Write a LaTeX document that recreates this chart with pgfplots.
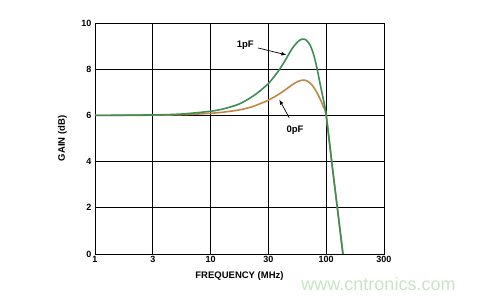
\documentclass[border=0pt]{standalone}
\usepackage{pgfplots}
\pgfplotsset{compat=1.18}
\usepackage{fontspec}
\setmainfont{Liberation Sans}
\definecolor{gcurve}{RGB}{62,140,88}
\definecolor{ocurve}{RGB}{190,136,70}
\definecolor{wmark}{RGB}{200,228,196}
\begin{document}
\begin{tikzpicture}
\begin{axis}[
  at={(0,0)}, anchor=south west,
  scale only axis, width=289pt, height=231pt,
  xmin=0, xmax=5, ymin=0, ymax=10,
  xtick={0,1,2,3,4,5},
  xticklabels={1,3,10,30,100,300},
  ytick={0,2,4,6,8,10},
  grid=major,
  major grid style={black, line width=0.8pt},
  axis line style={black, line width=0.8pt},
  tick style={draw=none},
  ticklabel style={font=\fontsize{9}{10}\selectfont\bfseries},
  /pgf/number format/assume math mode=true,
  xlabel={FREQUENCY (MHz)},
  ylabel={GAIN (dB)},
  label style={font=\fontsize{9.5}{11}\selectfont\bfseries},
  xlabel style={at={(axis description cs:0.5,-0.095)}, anchor=center},
  ylabel style={at={(axis description cs:-0.113,0.5)}, anchor=center},
  xticklabel style={yshift=1pt},
  clip=true,
]
\addplot[ocurve, line width=1.6pt, smooth] coordinates {
(0,6.0) (1,6.01) (1.5,6.03) (2,6.09) (2.25,6.15) (2.5,6.24) (2.7,6.36) (2.85,6.5) (3,6.66) (3.15,6.87) (3.3,7.12) (3.42,7.34) (3.52,7.48) (3.6,7.53) (3.68,7.48) (3.76,7.3) (3.83,7.03) (3.9,6.68) (3.95,6.38) (4,6.0) (4.1,3.9) (4.2,1.85) (4.29,0.0) (4.32,-0.6)
};
\addplot[gcurve, line width=1.6pt, smooth] coordinates {
(0,6.0) (1,6.02) (1.5,6.06) (2,6.18) (2.25,6.3) (2.5,6.5) (2.7,6.78) (2.85,7.05) (3,7.38) (3.1,7.68) (3.2,8.02) (3.3,8.42) (3.4,8.85) (3.5,9.17) (3.58,9.3) (3.65,9.27) (3.72,9.05) (3.78,8.65) (3.84,8.05) (3.9,7.3) (3.95,6.7) (4,6.0) (4.1,3.9) (4.2,1.85) (4.29,0.0) (4.32,-0.6)
};
\draw[-latex, black, line width=0.7pt] (axis cs:2.82,8.92) -- (axis cs:3.31,8.62);
\node[font=\fontsize{9.5}{11}\selectfont\bfseries] at (axis cs:2.6,9.05) {1pF};
\draw[-latex, black, line width=0.7pt] (axis cs:3.36,5.9) -- (axis cs:3.19,6.68);
\node[font=\fontsize{9.5}{11}\selectfont\bfseries] at (axis cs:3.46,5.37) {0pF};
\end{axis}
\node[anchor=base, text=wmark, font=\fontsize{18}{20}\selectfont] at (283.5pt,-37pt) {www.cntronics.com};
\pgfresetboundingbox
\path (-95pt,-46pt) rectangle (385pt,254pt);
\end{tikzpicture}
\end{document}
